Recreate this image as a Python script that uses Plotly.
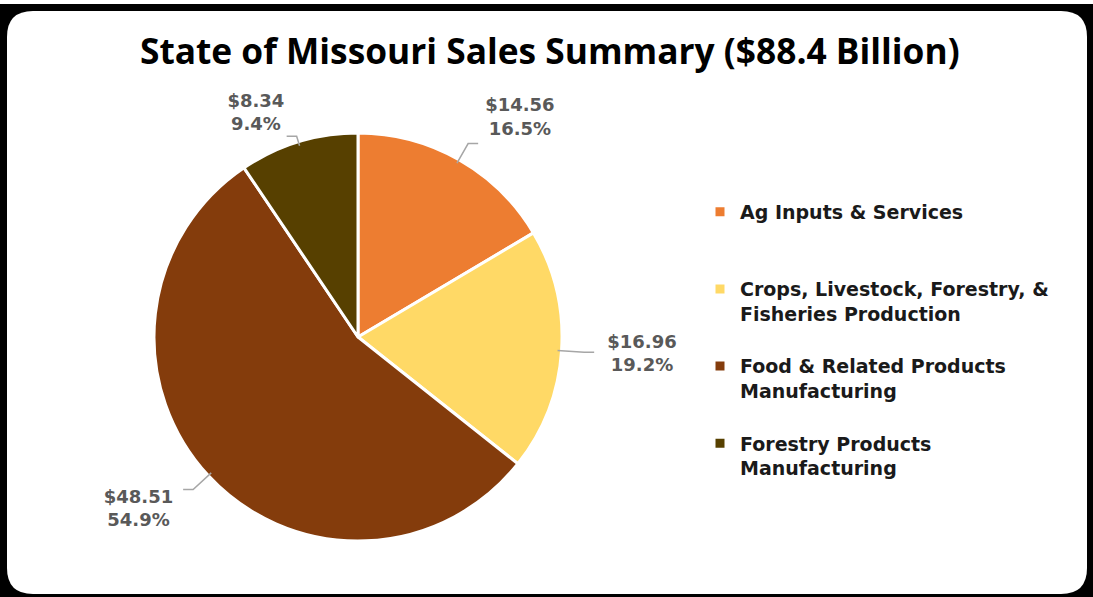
import math
import plotly.graph_objects as go

categories = [
    "Ag Inputs & Services<br> <br> ",
    "Crops, Livestock, Forestry, &<br>Fisheries Production<br> ",
    "Food & Related Products<br>Manufacturing<br> ",
    "Forestry Products<br>Manufacturing<br> ",
]
values = [14.56, 16.96, 48.51, 8.34]
colors = ["#ED7D31", "#FFD966", "#843C0C", "#574000"]
title_text = "State of Missouri Sales Summary ($88.4 Billion)"

W, H = 1093, 597

def px_x(v):
    return v / W

def px_y(v):
    return 1 - v / H

# rounded white panel
x0, x1, yt, yb, r = 7, 1087, 11, 594, 26
path = (
    f"M {px_x(x0 + r)},{px_y(yt)} L {px_x(x1 - r)},{px_y(yt)} "
    f"Q {px_x(x1)},{px_y(yt)} {px_x(x1)},{px_y(yt + r)} "
    f"L {px_x(x1)},{px_y(yb - r)} "
    f"Q {px_x(x1)},{px_y(yb)} {px_x(x1 - r)},{px_y(yb)} "
    f"L {px_x(x0 + r)},{px_y(yb)} "
    f"Q {px_x(x0)},{px_y(yb)} {px_x(x0)},{px_y(yb - r)} "
    f"L {px_x(x0)},{px_y(yt + r)} "
    f"Q {px_x(x0)},{px_y(yt)} {px_x(x0 + r)},{px_y(yt)} Z"
)

cx, cy, R = 358, 337, 204
label_pull = [0.15, 0.17, 0.16, 0.05]   # how far each label sits beyond the rim (x radius)
max_pull = max(label_pull)

def dom(rad):
    return dict(x=[px_x(cx - rad), px_x(cx + rad)], y=[px_y(cy + rad), px_y(cy - rad)])

shapes = [
    dict(type="path", xref="paper", yref="paper", path=path,
         fillcolor="white", line=dict(width=0), layer="below"),
    dict(type="rect", xref="paper", yref="paper", x0=0, x1=1,
         y0=px_y(4), y1=1, fillcolor="white", line=dict(width=0), layer="below"),
]
# leader lines derived from the slice mid-angles
total = sum(values)
cum = 0.0
for v, p in zip(values, label_pull):
    mid = (cum + v / 2) / total * 2 * math.pi
    cum += v
    sx, cyy = math.sin(mid), math.cos(mid)
    ext = max(R * p - 12, 6)
    ax, ay = cx + (R - 4) * sx, cy - (R - 4) * cyy
    bx, by = cx + (R + ext) * sx, cy - (R + ext) * cyy
    ex = bx + (10 if sx > 0 else -10)
    shapes.append(dict(
        type="path", xref="paper", yref="paper",
        path=f"M {px_x(ax)},{px_y(ay)} L {px_x(bx)},{px_y(by)} L {px_x(ex)},{px_y(by)}",
        line=dict(color="#A6A6A6", width=1.5), layer="above",
    ))

fig = go.Figure()
# label carrier: same data, transparent, pulled slices so the outside labels sit farther out
fig.add_trace(
    go.Pie(
        labels=categories,
        values=values,
        marker=dict(colors=["rgba(0,0,0,0)"] * len(values), line=dict(width=0)),
        sort=False,
        direction="clockwise",
        rotation=0,
        pull=label_pull,
        textposition="outside",
        texttemplate="$%{value:.2f}<br>%{percent:.1%}",
        textfont=dict(family="DejaVu Sans", size=18, color="#595959", weight="bold"),
        domain=dom(R * (1 + max_pull)),
        hoverinfo="skip",
        showlegend=False,
        automargin=False,
    )
)
fig.add_trace(
    go.Pie(
        labels=categories,
        values=values,
        marker=dict(colors=colors, line=dict(color="white", width=3)),
        sort=False,
        direction="clockwise",
        rotation=0,
        textinfo="none",
        domain=dom(R),
        hoverinfo="label+value+percent",
        automargin=False,
    )
)

fig.update_layout(
    width=W,
    height=H,
    autosize=False,
    margin=dict(l=0, r=0, t=0, b=0, pad=0, autoexpand=False),
    paper_bgcolor="black",
    plot_bgcolor="white",
    title=dict(
        text=title_text,
        x=0.503,
        xanchor="center",
        y=px_y(52),
        yanchor="middle",
        font=dict(family="Open Sans", size=35.3, color="black", weight="bold"),
    ),
    legend=dict(
        x=px_x(700),
        y=px_y(193),
        xanchor="left",
        yanchor="top",
        valign="top",
        font=dict(family="DejaVu Sans", size=19, color="#1a1a1a", weight="bold"),
        bgcolor="rgba(0,0,0,0)",
        itemclick=False,
    ),
    shapes=shapes,
)

fig.write_html(
    "out.html",
    config={"displayModeBar": False},
    post_script="document.body.style.margin='0';document.body.style.overflow='hidden';",
)
